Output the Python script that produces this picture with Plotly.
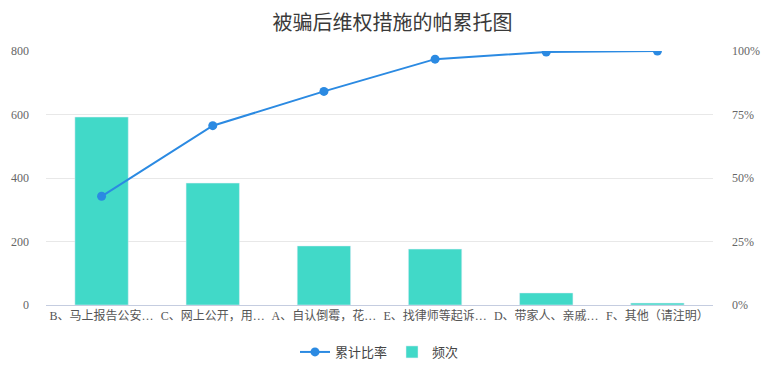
import plotly.graph_objects as go

categories = ["B、马上报告公安…", "C、网上公开，用…", "A、自认倒霉，花…", "E、找律师等起诉…", "D、带家人、亲戚…", "F、其他（请注明）"]
frequency = [592, 384, 186, 176, 38, 6]
cumulative_pct = [42.8, 70.6, 84.1, 96.8, 99.6, 100.0]
left_ticks = [0, 200, 400, 600, 800]
right_ticks = [0, 25, 50, 75, 100]
right_tick_labels = ["0%", "25%", "50%", "75%", "100%"]

font_family = "Liberation Serif, Noto Sans CJK SC, serif"

fig = go.Figure()
fig.add_trace(go.Scatter(
    x=categories, y=cumulative_pct, name="累计比率", yaxis="y2",
    mode="lines+markers",
    line=dict(color="#2b8ae2", width=2),
    marker=dict(color="#2b8ae2", size=9),
))
fig.add_trace(go.Bar(
    x=categories, y=frequency, name="频次",
    marker=dict(color="#41d9c8"),
    width=0.48,
))

fig.update_layout(
    width=769, height=385,
    margin=dict(l=38, r=64, t=43, b=88, autoexpand=False),
    paper_bgcolor="white", plot_bgcolor="white",
    font=dict(family=font_family, size=12, color="#666"),
    title=dict(text="被骗后维权措施的帕累托图", x=0.5, xanchor="center", y=0.96, yanchor="middle",
               font=dict(size=20, color="#3a3a3a", family="Noto Sans CJK SC")),
    showlegend=True,
    legend=dict(orientation="h", x=0.5, xanchor="center", y=-0.185, yanchor="middle",
                font=dict(size=13, color="#444", family="Noto Sans CJK SC"), itemwidth=30,
                traceorder="normal"),
    bargap=0.5,
    xaxis=dict(showline=True, linecolor="#c5cde0", linewidth=1, ticks="", automargin=False,
               tickfont=dict(size=12, color="#555", family=font_family)),
    yaxis=dict(range=[0, 800], tickvals=left_ticks, showgrid=True, gridcolor="#e8e8e8",
               zeroline=False, showline=False, ticks="", ticklabelstandoff=16, automargin=False),
    yaxis2=dict(range=[0, 100], tickvals=right_ticks, ticktext=right_tick_labels,
                overlaying="y", side="right", automargin=False,
                showgrid=False, zeroline=False, showline=False, ticks="", ticklabelstandoff=18),
)

fig.write_html("out.html")
